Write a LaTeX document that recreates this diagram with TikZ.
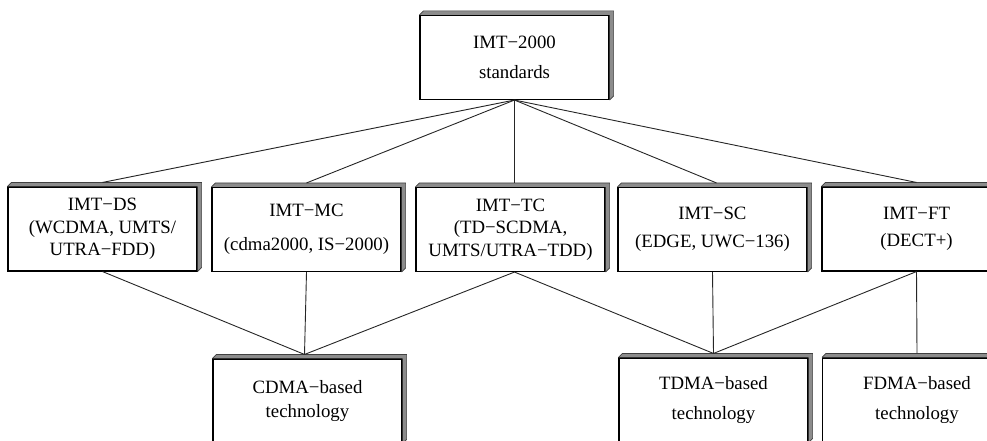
\documentclass[tikz,border=0pt]{standalone}
\usepackage{fontspec}
\setmainfont{Liberation Serif}
\tikzset{
  box/.style={draw=black, line width=1.1pt, fill=white, minimum width=189pt,
    minimum height=84pt, inner sep=0pt, align=center,
    font=\fontsize{18.8}{22.5}\selectfont},
  conn/.style={draw=black!85, line width=0.9pt},
}
\newcommand\extrudebox[1]{%
  \fill[black!45] (#1.north west) -- ([shift={(4pt,4pt)}]#1.north west)
    -- ([shift={(4pt,4pt)}]#1.north east) -- ([shift={(4pt,4pt)}]#1.south east)
    -- (#1.south east) -- (#1.north east) -- cycle;
  \draw[black!75, line width=0.6pt] (#1.north west) -- ([shift={(4pt,4pt)}]#1.north west)
    -- ([shift={(4pt,4pt)}]#1.north east) -- ([shift={(4pt,4pt)}]#1.south east)
    -- (#1.south east);}
\begin{document}
\begin{tikzpicture}[x=1pt, y=-1pt]
\useasboundingbox (0,0) rectangle (987,441);
\clip (0,0) rectangle (987,441);
% top
\node[box] (top) at (514.5,57.5) {IMT\textminus2000\\[7pt]standards};
% row 2
\node[box] (ds) at (102.5,229) {IMT\textminus DS\\(WCDMA, UMTS/\\UTRA\textminus FDD)};
\node[box] (mc) at (306.5,229.5) {IMT\textminus MC\\[12pt](cdma2000, IS\textminus2000)};
\node[box] (tc) at (510.5,229.5) {IMT\textminus TC\\(TD\textminus SCDMA,\\UMTS/UTRA\textminus TDD)};
\node[box] (sc) at (712.5,229.5) {IMT\textminus SC\\[5pt](EDGE, UWC\textminus136)};
\node[box] (ft) at (916.5,229) {IMT\textminus FT\\[5pt](DECT+)};
% bottom row
\node[box] (cd) at (307.5,401) {CDMA\textminus based\\[2pt]technology};
\node[box] (td) at (713.5,400) {TDMA\textminus based\\[7pt]technology};
\node[box] (fd) at (917,400) {FDMA\textminus based\\[7pt]technology};
\foreach \n in {top,ds,mc,tc,sc,ft,cd,td,fd} {\extrudebox{\n}}
% connectors
\coordinate (tcT) at ([yshift=4pt]top.south |- tc.north);
\coordinate (tcB) at (top.south |- tc.south);
\draw[conn] (top.south) -- ([yshift=4pt]ds.north);
\draw[conn] (top.south) -- ([yshift=4pt]mc.north);
\draw[conn] (top.south) -- (tcT);
\draw[conn] (top.south) -- ([yshift=4pt,xshift=4pt]sc.north);
\draw[conn] (top.south) -- ([yshift=4pt]ft.north);
\draw[conn] (ds.south) -- ([yshift=4pt,xshift=-3pt]cd.north);
\draw[conn] (mc.south) -- ([yshift=4pt,xshift=-3pt]cd.north);
\draw[conn] (tcB) -- ([yshift=4pt,xshift=-3pt]cd.north);
\draw[conn] (tcB) -- ([yshift=4pt]td.north);
\draw[conn] (sc.south) -- ([yshift=4pt]td.north);
\draw[conn] (ft.south) -- ([yshift=4pt]td.north);
\draw[conn] (ft.south) -- ([yshift=4pt]fd.north);
\end{tikzpicture}
\end{document}
